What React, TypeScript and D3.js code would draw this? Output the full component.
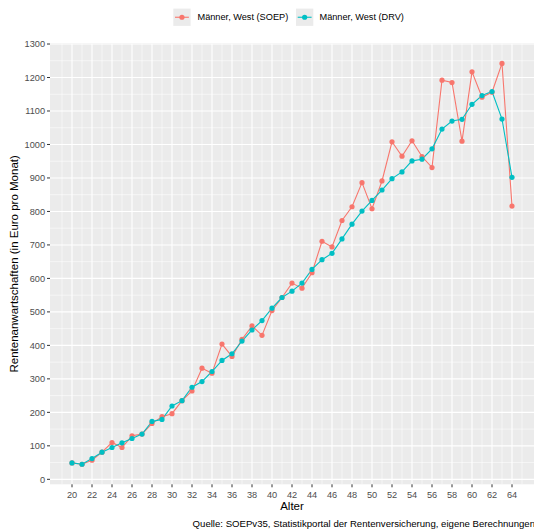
import React from "react";
import * as d3 from "d3";

const ages = d3.range(20, 65);
const soepValues = [49,45,57,81,110,95,130,135,167,187,196,235,264,332,317,404,367,418,458,430,504,543,586,571,617,711,694,773,814,886,808,891,1008,965,1011,964,931,1192,1185,1010,1217,1141,1156,1242,816];
const drvValues = [49,45,62,81,95,109,122,135,173,179,219,235,275,292,322,355,375,413,446,474,511,543,562,586,627,656,675,718,762,801,833,864,898,918,951,956,987,1046,1070,1075,1120,1146,1158,1076,902];
const seriesNames = ["Männer, West (SOEP)", "Männer, West (DRV)"];
const seriesColors = ["#F8766D", "#00BFC4"];
const xTicks = d3.range(20, 65, 2);
const xMinor = d3.range(19, 66, 2);
const yTicks = d3.range(0, 1301, 100);
const yMinor = d3.range(50, 1300, 100);
const xTitle = "Alter";
const yTitle = "Rentenanwartschaften (in Euro pro Monat)";
const caption = "Quelle: SOEPv35, Statistikportal der Rentenversicherung, eigene Berechnungen";

const W = 534, H = 532;
const panel = { left: 50, right: 534, top: 43.4, bottom: 484.3 };
const font = "'Liberation Sans', Arial, Helvetica, sans-serif";

export default function App() {
  const x = d3.scaleLinear().domain([17.8, 66.2]).range([panel.left, panel.right]);
  const y = d3.scaleLinear().domain([-14.85, 1301.85]).range([panel.bottom, panel.top]);
  const series = [soepValues, drvValues].map((vals) => ages.map((a, i) => [a, vals[i]] as [number, number]));
  const line = d3.line<[number, number]>().x((d) => x(d[0])).y((d) => y(d[1]));
  const legendKeys = [173.3, 296];
  const legendText = [197.5, 319.5];
  return (
    <svg width={W} height={H} style={{ position: "absolute", left: 0, top: 0, background: "#fff" }} fontFamily={font}>
      <defs>
        <clipPath id="pc"><rect x={panel.left} y={panel.top} width={panel.right - panel.left} height={panel.bottom - panel.top} /></clipPath>
      </defs>
      <rect x={panel.left} y={panel.top} width={panel.right - panel.left} height={panel.bottom - panel.top} fill="#EBEBEB" />
      <g clipPath="url(#pc)">
        {yMinor.map((v) => <line key={"ym" + v} x1={panel.left} x2={panel.right} y1={y(v)} y2={y(v)} stroke="#fff" strokeWidth={0.55} />)}
        {xMinor.map((v) => <line key={"xm" + v} y1={panel.top} y2={panel.bottom} x1={x(v)} x2={x(v)} stroke="#fff" strokeWidth={0.55} />)}
        {yTicks.map((v) => <line key={"yM" + v} x1={panel.left} x2={panel.right} y1={y(v)} y2={y(v)} stroke="#fff" strokeWidth={1.1} />)}
        {xTicks.map((v) => <line key={"xM" + v} y1={panel.top} y2={panel.bottom} x1={x(v)} x2={x(v)} stroke="#fff" strokeWidth={1.1} />)}
        {series.map((s, i) => <path key={"l" + i} d={line(s) || ""} fill="none" stroke={seriesColors[i]} strokeWidth={1.1} />)}
        {series.map((s, i) => s.map((d) => <circle key={"p" + i + "-" + d[0]} cx={x(d[0])} cy={y(d[1])} r={2.6} fill={seriesColors[i]} />))}
      </g>
      {yTicks.map((v) => (
        <g key={"yt" + v}>
          <line x1={panel.left - 3} x2={panel.left} y1={y(v)} y2={y(v)} stroke="#333" strokeWidth={1} />
          <text x={panel.left - 5} y={y(v)} dy="0.35em" textAnchor="end" fontSize={9.2} fill="#4D4D4D">{v}</text>
        </g>
      ))}
      {xTicks.map((v) => (
        <g key={"xt" + v}>
          <line x1={x(v)} x2={x(v)} y1={panel.bottom} y2={panel.bottom + 3} stroke="#333" strokeWidth={1} />
          <text x={x(v)} y={497.5} textAnchor="middle" fontSize={9.2} fill="#4D4D4D">{v}</text>
        </g>
      ))}
      <text x={(panel.left + panel.right) / 2} y={509.5} textAnchor="middle" fontSize={11.5} fill="#000">{xTitle}</text>
      <text transform={`translate(17.5, ${(panel.top + panel.bottom) / 2}) rotate(-90)`} textAnchor="middle" fontSize={11.5} fill="#000">{yTitle}</text>
      <text x={535} y={526.5} textAnchor="end" fontSize={9.6} fill="#000">{caption}</text>
      {seriesNames.map((name, i) => (
        <g key={"lg" + i}>
          <rect x={legendKeys[i]} y={8.6} width={17.3} height={17.3} fill="#EBEBEB" />
          <line x1={legendKeys[i] + 1.7} x2={legendKeys[i] + 15.6} y1={17.25} y2={17.25} stroke={seriesColors[i]} strokeWidth={1.1} />
          <circle cx={legendKeys[i] + 8.65} cy={17.25} r={2.6} fill={seriesColors[i]} />
          <text x={legendText[i]} y={17.25} dy="0.35em" fontSize={9.2} fill="#000">{name}</text>
        </g>
      ))}
    </svg>
  );
}
